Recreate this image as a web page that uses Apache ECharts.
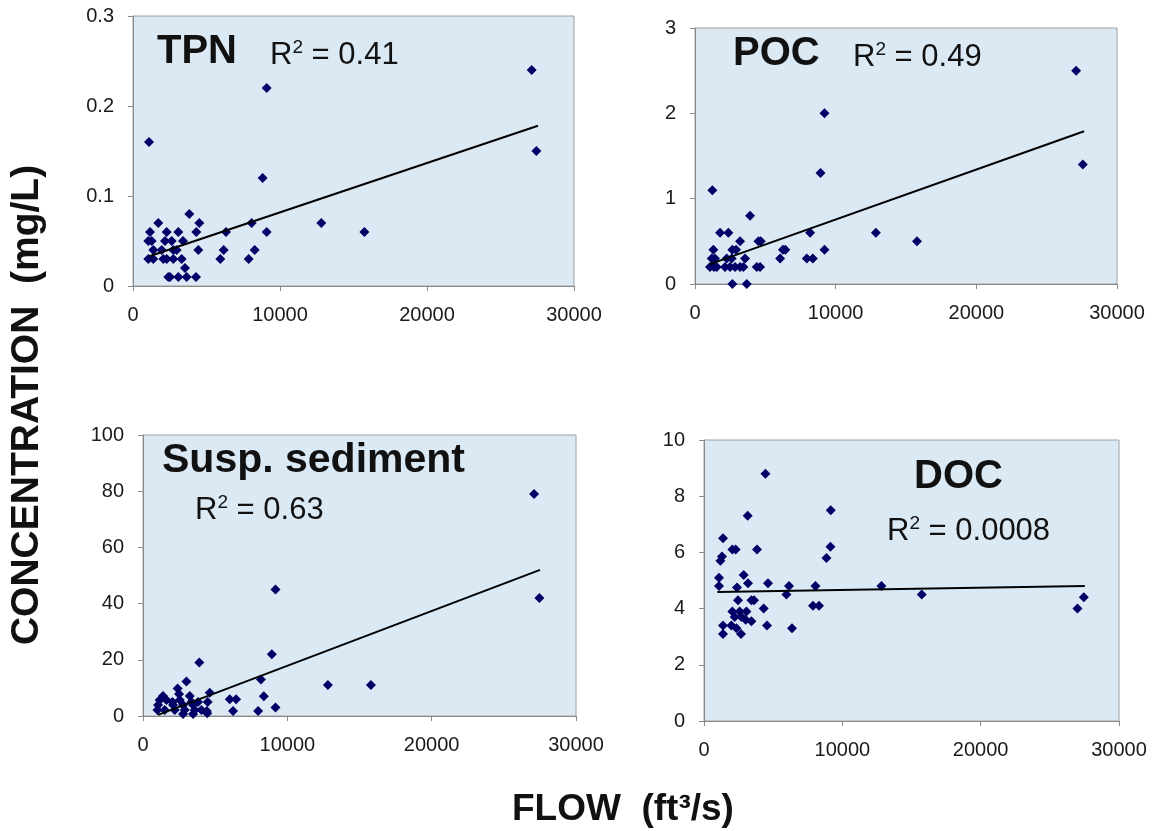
<!DOCTYPE html>
<html>
<head>
<meta charset="utf-8">
<script src="https://cdn.jsdelivr.net/npm/echarts@6/dist/echarts.min.js"></script>
<style>html,body{margin:0;padding:0;background:#fff;}#c{width:1155px;height:831px;}</style>
</head>
<body>
<div id="c"></div>
<script>
// ---- Data (flow ft3/s, concentration mg/L) ----
const xTicks = [0, 10000, 20000, 30000];
const tpnPoints = [[1088,0.16],[9093,0.22],[27120,0.24],[27440,0.15],[8820,0.12],[12810,0.07],[15740,0.06],
[3832,0.08],[1723,0.07],[4512,0.07],[8072,0.07],
[1157,0.06],[2290,0.06],[3084,0.06],[4308,0.06],[6327,0.06],[9093,0.06],
[1040,0.05],[1270,0.05],[2177,0.05],[2630,0.05],[3400,0.05],
[1383,0.04],[1950,0.04],[2743,0.04],[2970,0.04],[4444,0.04],[6170,0.04],[8280,0.04],
[1040,0.03],[1383,0.03],[2063,0.03],[2290,0.03],[2743,0.03],[3310,0.03],[5940,0.03],[7870,0.03],
[3537,0.02],
[2403,0.01],[2517,0.01],[3084,0.01],[3650,0.01],[4286,0.01]];
const tpnTrend = [[1110,0.033],[27550,0.178]];

const pocPoints = [[27096,2.5],[27570,1.4],[9205,2.0],[8920,1.3],[1233,1.1],[3915,0.8],
[1780,0.6],[2373,0.6],[8185,0.6],[12860,0.6],
[15780,0.5],[3203,0.5],[4508,0.5],[4674,0.5],
[1305,0.4],[2658,0.4],[2918,0.4],[6250,0.4],[6420,0.4],[9205,0.4],
[1186,0.3],[1423,0.3],[2253,0.3],[2610,0.3],[3558,0.3],[6050,0.3],[7947,0.3],[8375,0.3],
[1068,0.2],[1352,0.2],[1544,0.2],[2135,0.2],[2491,0.2],[2847,0.2],[3203,0.2],[3440,0.2],[4390,0.2],[4626,0.2],
[2658,0],[3680,0]];
const pocTrend = [[1020,0.23],[27665,1.79]];

const sedPoints = [[27094,79],[27462,42],[9182,45],[8925,22],[3900,19],[12809,11],[15791,11],[8170,13],[8370,7],[9182,3],[7975,1.8],
[6012,6],[6450,6],[6241,1.8],[4626,8.3],[4480,5],[4420,1.8],[4450,1],
[3010,12.3],[2400,9.8],[2500,7.8],[3239,7.1],[1387,7.1],
[1158,5.7],[1623,5.7],[2039,5],[2545,5.7],[3357,5],[3814,5],
[1042,3.9],[2081,3.9],[2775,3.9],[3470,3.9],
[1000,2.1],[1505,2.1],[2198,2.1],[2892,2.1],[3585,2.1],[4050,2.1],
[2774,0.7],[3468,0.7]];
const sedTrend = [[1040,0.4],[27510,52]];

const docPoints = [[4440,8.8],[3160,7.3],[9161,7.5],[9140,6.2],[8850,5.8],[1374,6.5],[2053,6.1],[2292,6.1],[3832,6.1],
[1302,5.85],[1186,5.7],[1085,5.1],[2871,5.2],[1085,4.8],[2386,4.75],[3181,4.9],[4627,4.9],[6146,4.8],[5958,4.5],[8055,4.8],[12827,4.8],[15741,4.5],[27455,4.4],[26998,4.0],
[2458,4.3],[3427,4.3],[3615,4.3],[4317,4.0],[7881,4.1],[8315,4.1],
[2053,3.9],[2581,3.9],[3066,3.9],[2220,3.7],[2704,3.7],[3015,3.6],[3427,3.55],
[1374,3.4],[1981,3.4],[2343,3.3],[4555,3.4],[6363,3.3],[1374,3.1],[2675,3.1]];
const docTrend = [[969,4.59],[27530,4.8]];

const panelNames = ['TPN', 'POC', 'Susp. sediment', 'DOC'];
const r2Values = ['0.41', '0.49', '0.63', '0.0008'];
const yMax = [0.3, 3, 100, 10];
const yInterval = [0.1, 1, 20, 2];
const xAxisTitle = 'FLOW  (ft\u00B3/s)';
const yAxisTitle = 'CONCENTRATION  (mg/L)';

// ---- Layout ----
const FONT = '"Liberation Sans", Arial, sans-serif';
const grids = [
  {left: 133, top: 16, width: 441, height: 270},
  {left: 695, top: 28, width: 422, height: 256},
  {left: 143, top: 435, width: 433, height: 281},
  {left: 704, top: 440, width: 415, height: 281}
];
const pointSets = [tpnPoints, pocPoints, sedPoints, docPoints];
const trendSets = [tpnTrend, pocTrend, sedTrend, docTrend];

const axisCommon = {
  axisLine: {show: true, lineStyle: {color: '#8a8a8a', width: 1}},
  axisTick: {show: true, inside: false, length: 5, lineStyle: {color: '#8a8a8a'}},
  splitLine: {show: false}
};
const labelStyle = {fontSize: 20, color: '#1a1a1a', fontFamily: FONT, formatter: v => String(v)};

function r2Text(i, x, y) {
  return {type: 'text', x: x, y: y, style: {
    text: '{r|R}{s|2}{r| = ' + r2Values[i] + '}',
    verticalAlign: 'middle',
    rich: {
      r: {fontSize: 31, fontFamily: FONT, fill: '#111', color: '#111'},
      s: {fontSize: 19, fontFamily: FONT, fill: '#111', color: '#111', verticalAlign: 'top', padding: [0, 0, 14, 0]}
    }
  }};
}

const option = {
  animation: false,
  backgroundColor: '#ffffff',
  grid: grids.map(g => Object.assign({show: true, backgroundColor: '#dbe9f5', borderColor: '#a0a0a0', borderWidth: 1}, g)),
  xAxis: grids.map((g, i) => Object.assign({}, axisCommon, {
    type: 'value', gridIndex: i, min: xTicks[0], max: xTicks[xTicks.length - 1], interval: xTicks[1] - xTicks[0],
    axisLabel: Object.assign({}, labelStyle, {margin: 19})
  })),
  yAxis: grids.map((g, i) => Object.assign({}, axisCommon, {
    type: 'value', gridIndex: i, min: 0, max: yMax[i], interval: yInterval[i],
    axisLabel: Object.assign({}, labelStyle, {margin: 19})
  })),
  series: [].concat(
    pointSets.map((d, i) => ({
      type: 'scatter', xAxisIndex: i, yAxisIndex: i, data: d,
      symbol: 'diamond', symbolSize: 10, itemStyle: {color: '#000066', opacity: 1}
    })),
    trendSets.map((d, i) => ({
      type: 'line', xAxisIndex: i, yAxisIndex: i, data: d, symbol: 'none', z: 3,
      lineStyle: {color: '#000000', width: 2}
    }))
  ),
  graphic: [
    {type: 'text', x: 157, y: 52, style: {text: panelNames[0], font: 'bold 40px ' + FONT, fill: '#111', verticalAlign: 'middle'}},
    r2Text(0, 270, 55),
    {type: 'text', x: 733, y: 54, style: {text: panelNames[1], font: 'bold 40px ' + FONT, fill: '#111', verticalAlign: 'middle'}},
    r2Text(1, 853, 57),
    {type: 'text', x: 162, y: 461, style: {text: panelNames[2], font: 'bold 41px ' + FONT, fill: '#111', verticalAlign: 'middle'}},
    r2Text(2, 195, 510),
    {type: 'text', x: 914, y: 477, style: {text: panelNames[3], font: 'bold 40px ' + FONT, fill: '#111', verticalAlign: 'middle'}},
    r2Text(3, 887, 531),
    {type: 'text', x: 512, y: 810, style: {text: xAxisTitle, font: 'bold 37px ' + FONT, fill: '#111', verticalAlign: 'middle'}},
    {type: 'text', x: 27, y: 405, rotation: Math.PI / 2, style: {text: yAxisTitle, font: 'bold 39px ' + FONT, fill: '#111', align: 'center', verticalAlign: 'middle'}}
  ]
};

const chart = echarts.init(document.getElementById('c'), null, {renderer: 'canvas'});
chart.setOption(option);
</script>
</body>
</html>
